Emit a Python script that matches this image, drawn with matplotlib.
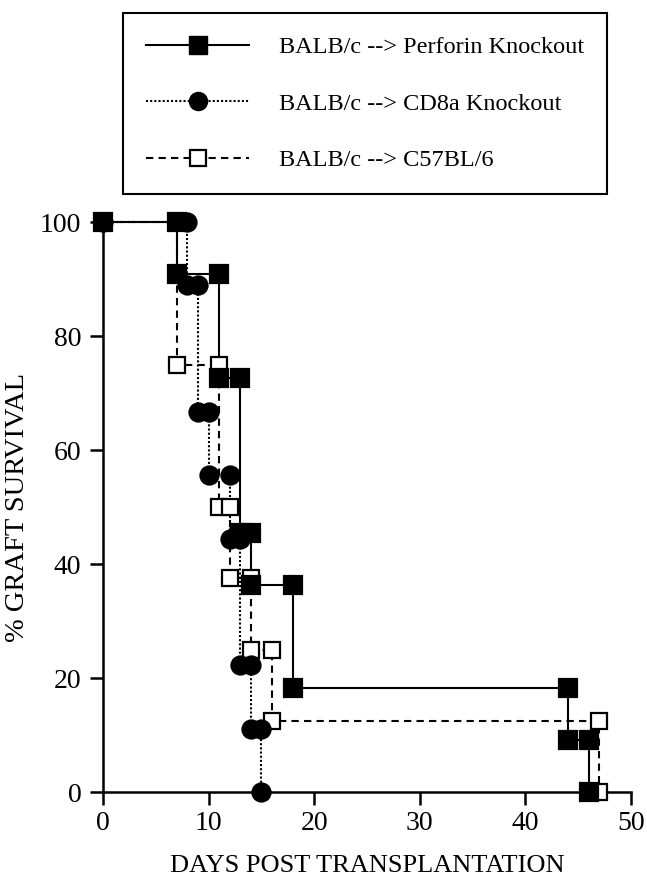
import numpy as np
import matplotlib.pyplot as plt
from matplotlib.lines import Line2D

plt.rcParams['font.family'] = ['Liberation Serif', 'DejaVu Serif']

# Kaplan-Meier steps: day of each event and % survival after it
perforin_days = [0, 7, 11, 13, 14, 18, 44, 46]
perforin_surv = [100, 90.9, 72.7, 45.5, 36.4, 18.2, 9.1, 0]

cd8_days = [0, 8, 9, 10, 12, 13, 14, 15]
cd8_surv = [100, 88.9, 66.7, 55.6, 44.4, 22.2, 11.1, 0]

b6_days = [0, 7, 11, 12, 14, 16, 47]
b6_surv = [100, 75, 50, 37.5, 25, 12.5, 0]

labels = ['BALB/c --> Perforin Knockout',
          'BALB/c --> CD8a Knockout',
          'BALB/c --> C57BL/6']

x_ticks = [0, 10, 20, 30, 40, 50]
y_ticks = [0, 20, 40, 60, 80, 100]


def corners(days, surv):
    # markers sit at both ends of every drop
    d = np.asarray(days, float)
    s = np.asarray(surv, float)
    xs = np.concatenate([[d[0]], np.repeat(d[1:], 2)])
    ys = np.concatenate([[s[0]], np.column_stack([s[:-1], s[1:]]).ravel()])
    return xs, ys


styles = [
    dict(days=b6_days, surv=b6_surv, ls=(0, (3.5, 2.5)), marker='s', ms=11.5, mfc='white'),
    dict(days=cd8_days, surv=cd8_surv, ls=(0, (1, 1)), marker='o', ms=13, mfc='black'),
    dict(days=perforin_days, surv=perforin_surv, ls='-', marker='s', ms=12.5, mfc='black'),
]

fig = plt.figure(figsize=(6.47, 8.82), dpi=100)
ax = fig.add_axes([103 / 647, 1 - 792 / 882, 528 / 647, 570 / 882])

for z, st in enumerate(styles):
    ax.step(st['days'], st['surv'], where='post', color='black', lw=1.5,
            ls=st['ls'], clip_on=False, zorder=2 + z)
    xs, ys = corners(st['days'], st['surv'])
    ax.plot(xs, ys, ls='none', marker=st['marker'], ms=st['ms'], mfc=st['mfc'],
            mec='black', mew=1.6, clip_on=False, zorder=5 + z)

ax.set_xlim(0, 50)
ax.set_ylim(0, 100)
ax.set_xticks(x_ticks)
ax.set_yticks(y_ticks)
for sp in ['top', 'right']:
    ax.spines[sp].set_visible(False)
for sp in ['left', 'bottom']:
    ax.spines[sp].set_linewidth(1.8)
ax.tick_params(direction='out', length=9.5, width=1.8, labelsize=20)
ax.tick_params(axis='x', pad=4)
ax.tick_params(axis='y', pad=6)

ax.set_xlabel('DAYS POST TRANSPLANTATION', fontsize=19, labelpad=14)
ax.set_ylabel('% GRAFT SURVIVAL', fontsize=20.5, labelpad=7)

# legend (order: perforin, CD8a, C57BL/6)
handles = [
    Line2D([], [], color='black', lw=1.5, ls='-', marker='s', ms=12.5, mfc='black', mec='black'),
    Line2D([], [], color='black', lw=1.5, ls=(0, (1, 1)), marker='o', ms=13, mfc='black', mec='black'),
    Line2D([], [], color='black', lw=1.5, ls=(0, (3.5, 2.5)), marker='s', ms=11.5, mfc='white',
           mec='black', mew=1.6),
]
leg = fig.legend(handles, labels, loc='upper left', bbox_to_anchor=(123 / 647, 1 - 13 / 882),
                 bbox_transform=fig.transFigure, borderaxespad=0, fontsize=17.5,
                 numpoints=1, handlelength=4.24, handletextpad=1.23, labelspacing=1.42,
                 borderpad=0.95, fancybox=False, framealpha=1, edgecolor='black')
leg.get_frame().set_linewidth(1.5)

fig.savefig('out.png', dpi=100)
